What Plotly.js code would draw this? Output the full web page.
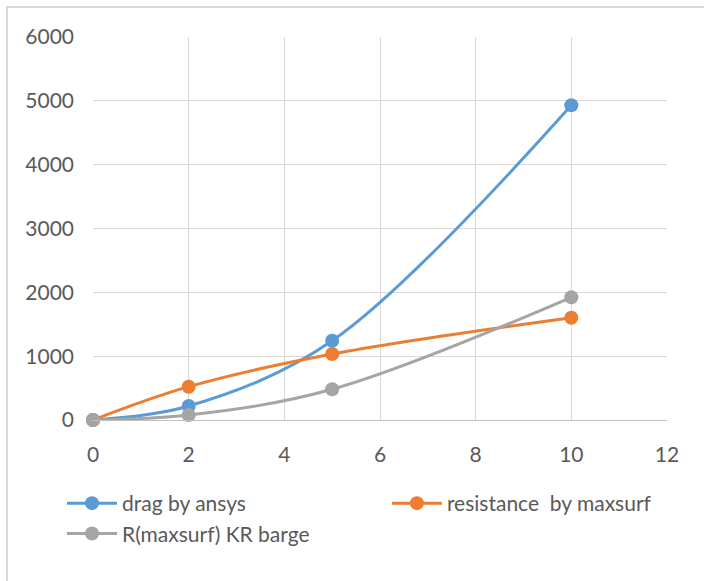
<!DOCTYPE html>
<html>
<head>
<meta charset="utf-8">
<script src="https://cdn.plot.ly/plotly-3.0.1.min.js"></script>
<style>
  html, body { margin: 0; padding: 0; background: #ffffff; overflow: hidden; }
  #frame { position: absolute; left: 6px; top: 6px; width: 760px; height: 640px;
           border: 2px solid #d9d9d9; box-sizing: border-box; }
  #chart { position: absolute; left: 0; top: 0; width: 704px; height: 581px; }
</style>
</head>
<body>
<div id="frame"></div>
<div id="chart"></div>
<script>
// Speed samples shared by all three series
const speed = [0, 2, 5, 10];

// Series values
const dragAnsys = [0, 219, 1242, 4930];
const resistanceMaxsurf = [0, 522, 1034, 1603];
const krBarge = [0, 78, 481, 1922];

// Series names and colours
const seriesNames = ['drag by ansys', 'resistance  by maxsurf', 'R(maxsurf) KR barge'];
const seriesColors = ['#5b9bd5', '#ed7d31', '#a5a5a5'];
// Legend columns: first and third series share the left column
const seriesLegends = ['legend', 'legend2', 'legend'];

const xTicks = [0, 2, 4, 6, 8, 10, 12];
const yTicks = [0, 1000, 2000, 3000, 4000, 5000, 6000];

const fontFamily = 'Lato, "Open Sans", sans-serif';
const tickColor = '#595959';
const fontSize = 21;

const seriesValues = [dragAnsys, resistanceMaxsurf, krBarge];
const traces = seriesValues.map((vals, i) => ({
  type: 'scatter',
  mode: 'lines+markers',
  name: seriesNames[i].replace(/  /g, ' \u00a0'),
  legend: seriesLegends[i],
  x: speed,
  y: vals,
  line: { color: seriesColors[i], width: 3, shape: 'spline', smoothing: 1 },
  marker: { color: seriesColors[i], size: 14 },
  cliponaxis: false
}));

const legendStyle = {
  orientation: 'v',
  xanchor: 'left',
  yanchor: 'top',
  y: -0.1645,
  itemwidth: 50,
  tracegroupgap: 0,
  font: { family: fontFamily, size: fontSize, color: tickColor },
  bgcolor: 'rgba(0,0,0,0)'
};

const layout = {
  width: 704,
  height: 581,
  margin: { l: 93, r: 37, t: 37, b: 161, autoexpand: false },
  paper_bgcolor: 'rgba(0,0,0,0)',
  plot_bgcolor: '#ffffff',
  font: { family: fontFamily, size: fontSize, color: tickColor },
  showlegend: true,
  xaxis: {
    range: [0, 12],
    tickvals: xTicks,
    ticktext: xTicks.map(String),
    showgrid: true,
    gridcolor: '#d9d9d9',
    gridwidth: 1,
    zeroline: false,
    showline: true,
    linecolor: '#bfbfbf',
    linewidth: 1,
    ticks: '',
    ticklabelstandoff: 16,
    tickfont: { family: fontFamily, size: fontSize, color: tickColor },
    fixedrange: true
  },
  yaxis: {
    range: [0, 6000],
    tickvals: yTicks,
    ticktext: yTicks.map(String),
    showgrid: true,
    gridcolor: '#d9d9d9',
    gridwidth: 1,
    zeroline: false,
    showline: false,
    ticks: '',
    ticklabelstandoff: 18,
    tickfont: { family: fontFamily, size: fontSize, color: tickColor },
    fixedrange: true
  },
  legend: Object.assign({}, legendStyle, { x: -0.054 }),
  legend2: Object.assign({}, legendStyle, { x: 0.512 })
};

Plotly.newPlot('chart', traces, layout, { displayModeBar: false, staticPlot: true });
</script>
</body>
</html>
